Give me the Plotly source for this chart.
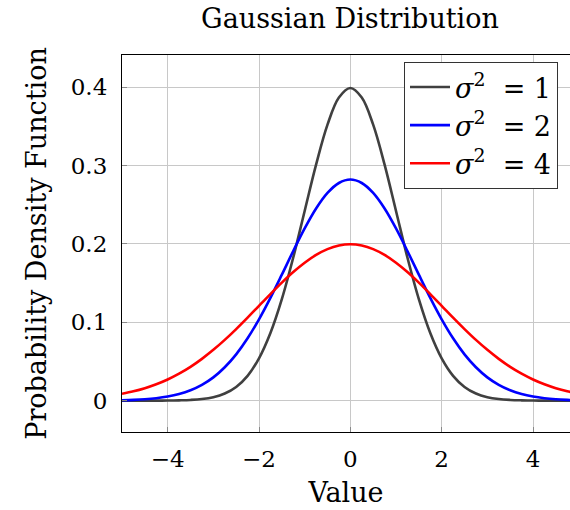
import plotly.graph_objects as go

x_vals = [-5.0, -4.75, -4.5, -4.25, -4.0, -3.75, -3.5, -3.25, -3.0, -2.75, -2.5, -2.25,
          -2.0, -1.75, -1.5, -1.25, -1.0, -0.75, -0.5, -0.25, 0.0,
          0.25, 0.5, 0.75, 1.0, 1.25, 1.5, 1.75, 2.0, 2.25, 2.5, 2.75,
          3.0, 3.25, 3.5, 3.75, 4.0, 4.25, 4.5, 4.75, 5.0]
pdf_var1 = [0.0000, 0.0000, 0.0000, 0.0000, 0.0001, 0.0004, 0.0009, 0.0020, 0.0044, 0.0091,
            0.0175, 0.0317, 0.0540, 0.0863, 0.1295, 0.1826, 0.2420, 0.3011, 0.3521, 0.3867,
            0.3989,
            0.3867, 0.3521, 0.3011, 0.2420, 0.1826, 0.1295, 0.0863, 0.0540, 0.0317, 0.0175,
            0.0091, 0.0044, 0.0020, 0.0009, 0.0004, 0.0001, 0.0000, 0.0000, 0.0000, 0.0000]
pdf_var2 = [0.0005, 0.0010, 0.0018, 0.0031, 0.0052, 0.0084, 0.0132, 0.0201, 0.0297, 0.0426,
            0.0591, 0.0796, 0.1038, 0.1312, 0.1607, 0.1909, 0.2197, 0.2451, 0.2650, 0.2777,
            0.2821,
            0.2777, 0.2650, 0.2451, 0.2197, 0.1909, 0.1607, 0.1312, 0.1038, 0.0796, 0.0591,
            0.0426, 0.0297, 0.0201, 0.0132, 0.0084, 0.0052, 0.0031, 0.0018, 0.0010, 0.0005]
pdf_var4 = [0.0088, 0.0119, 0.0159, 0.0209, 0.0270, 0.0344, 0.0431, 0.0533, 0.0648, 0.0775,
            0.0913, 0.1059, 0.1210, 0.1360, 0.1506, 0.1641, 0.1760, 0.1859, 0.1933, 0.1979,
            0.1995,
            0.1979, 0.1933, 0.1859, 0.1760, 0.1641, 0.1506, 0.1360, 0.1210, 0.1059, 0.0913,
            0.0775, 0.0648, 0.0533, 0.0431, 0.0344, 0.0270, 0.0209, 0.0159, 0.0119, 0.0088]
NB = "\u00a0"
series_names = [f"<i>σ</i><sup>2</sup>{NB}{NB}={NB}1",
                f"<i>σ</i><sup>2</sup>{NB}{NB}={NB}2",
                f"<i>σ</i><sup>2</sup>{NB}{NB}={NB}4"]
x_ticks = [-4, -2, 0, 2, 4]
x_tick_labels = ["−4", "−2", "0", "2", "4"]
y_ticks = [0, 0.1, 0.2, 0.3, 0.4]
y_tick_labels = ["0", "0.1", "0.2", "0.3", "0.4"]

colors = ["#404040", "#0000ff", "#ff0000"]
FONT = "DejaVu Serif"

fig = go.Figure()
for ys, name, c in zip([pdf_var1, pdf_var2, pdf_var4], series_names, colors):
    fig.add_trace(go.Scatter(x=x_vals, y=ys, mode="lines", name=name,
                             line=dict(color=c, width=2.6, shape="spline", smoothing=1.0)))

fig.update_layout(
    width=570, height=510,
    margin=dict(l=122, r=0, t=55, b=78),
    paper_bgcolor="white", plot_bgcolor="white",
    font=dict(family=FONT, color="black", size=23),
    title=dict(text="Gaussian Distribution", x=350 / 570, xanchor="center",
               y=1 - 19 / 510, yanchor="middle", font=dict(size=27, family=FONT)),
    legend=dict(x=(404 - 122) / 448, y=(432 - 62) / 377, xanchor="left", yanchor="top",
                bgcolor="white", bordercolor="#333333", borderwidth=1,
                font=dict(size=27, family=FONT), tracegroupgap=0,
                itemwidth=40),
    showlegend=True,
)
fig.update_xaxes(range=[-5, 4.81], tickvals=x_ticks, ticktext=x_tick_labels,
                 showgrid=True, gridcolor="#c8c8c8", gridwidth=1,
                 zeroline=False, showline=True, linecolor="black", linewidth=1.2,
                 mirror=True, ticks="inside", ticklen=5, tickcolor="#888888",
                 ticklabelstandoff=6,
                 tickfont=dict(size=23), title=dict(text="Value", font=dict(size=27), standoff=12))
fig.update_yaxes(range=[-0.04, 0.441], tickvals=y_ticks, ticktext=y_tick_labels,
                 showgrid=True, gridcolor="#c8c8c8", gridwidth=1,
                 zeroline=False, showline=True, linecolor="black", linewidth=1.2,
                 mirror=False, ticks="inside", ticklen=5, tickcolor="#888888",
                 ticklabelstandoff=9,
                 tickfont=dict(size=23), title=dict(text="Probability Density Function",
                                                    font=dict(size=27), standoff=16))

# remove the default 8px page margin so the 570x510 figure fills the window exactly
fig.write_html("out.html", config={"displayModeBar": False},
               post_script="document.body.style.margin='0';document.body.style.overflow='hidden';")
